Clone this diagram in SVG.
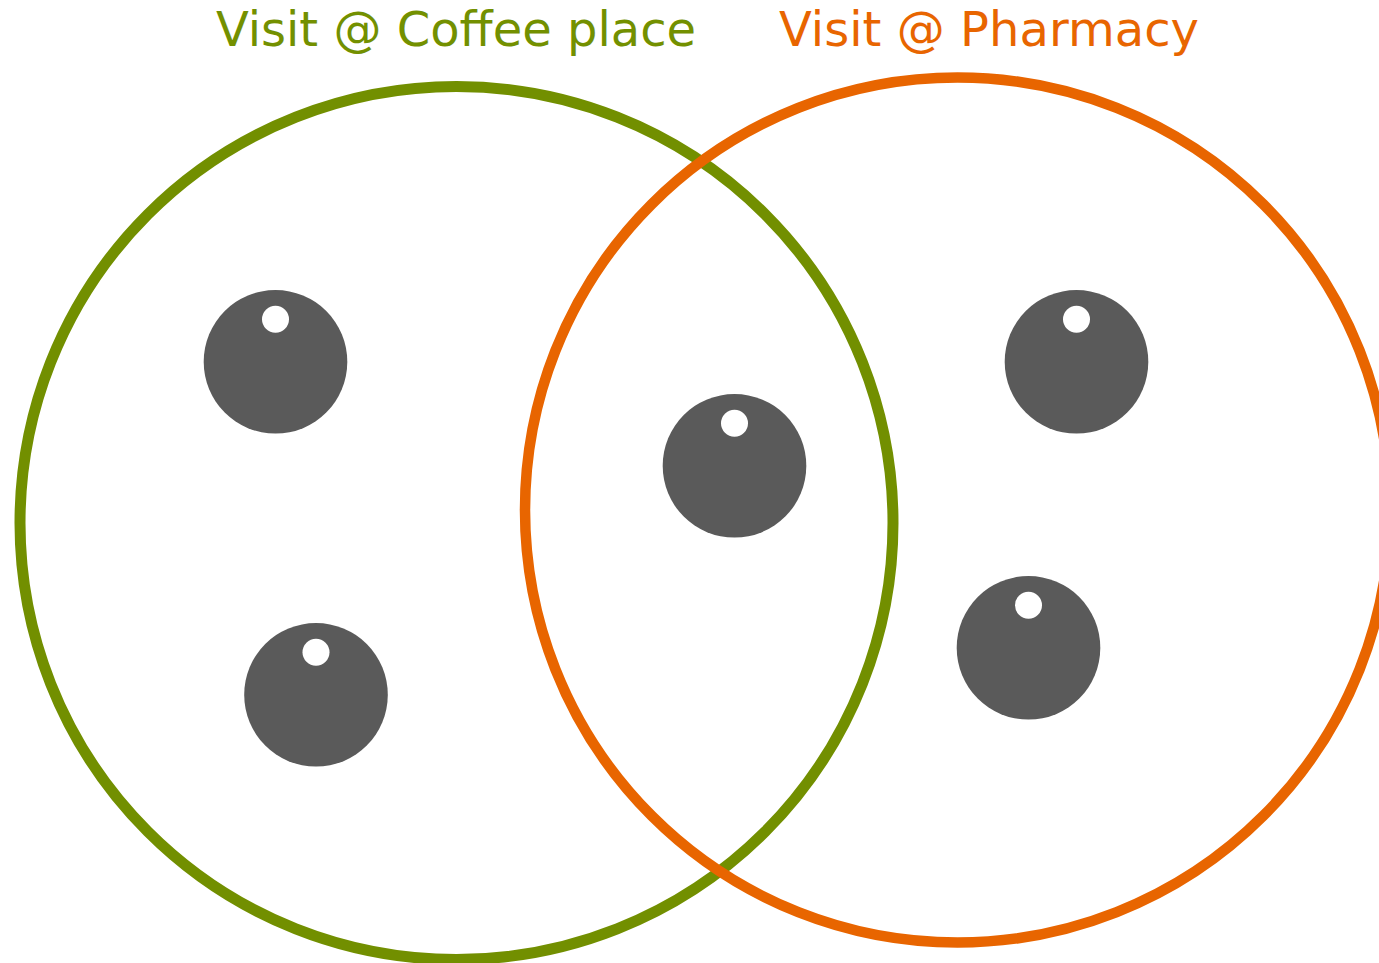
<svg xmlns="http://www.w3.org/2000/svg" width="1379" height="963" viewBox="0 0 1379 963">
<style>
.t{font-family:"DejaVu Sans",sans-serif;font-size:48px}
.ring{fill:none}
.b{fill:#5a5a5a}.w{fill:#fff}
</style>
<rect width="1379" height="963" fill="#fff"/>
<text id="label-coffee" class="t" x="456" y="45.500" text-anchor="middle" fill="#739000">Visit @ Coffee place</text>
<text id="label-pharmacy" class="t" x="989" y="45.500" text-anchor="middle" textLength="420" fill="#e86500">Visit @ Pharmacy</text>
<g id="set-coffee"><circle class="ring" cx="456.500" cy="523" r="436.500" stroke-width="11" stroke="#728f00"/></g>
<g id="set-pharmacy"><circle class="ring" cx="957.500" cy="510" r="432.500" stroke-width="10.500" stroke="#e86500"/></g>
<g id="person-1"><circle class="b" cx="275.500" cy="361.800" r="71.800"/><circle class="w" cx="275.500" cy="319.200" r="13.500"/></g>
<g id="person-2"><circle class="b" cx="316" cy="694.800" r="71.800"/><circle class="w" cx="316" cy="652.200" r="13.500"/></g>
<g id="person-3"><circle class="b" cx="734.500" cy="465.800" r="71.800"/><circle class="w" cx="734.500" cy="423.200" r="13.500"/></g>
<g id="person-4"><circle class="b" cx="1076.500" cy="361.800" r="71.800"/><circle class="w" cx="1076.500" cy="319.200" r="13.500"/></g>
<g id="person-5"><circle class="b" cx="1028.500" cy="647.800" r="71.800"/><circle class="w" cx="1028.500" cy="605.200" r="13.500"/></g>
</svg>
